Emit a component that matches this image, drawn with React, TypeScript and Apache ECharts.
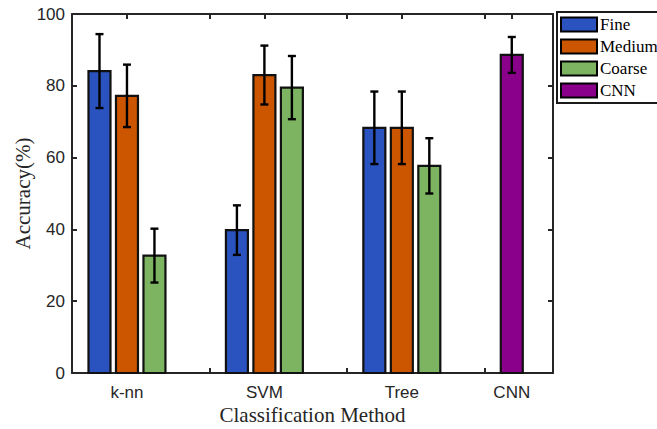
import React, { useEffect, useRef } from "react";
import * as echarts from "echarts";

const categories = ["k-nn", "SVM", "Tree", "CNN"];
const categoryPositions = [1, 2, 3, 3.8];
const tickPositions = [1, 1.6, 2, 2.6, 3, 3.6, 3.8];

const fineValues = [84.1, 39.8, 68.3];
const fineErrors = [10.3, 6.9, 10.1];
const mediumValues = [77.2, 83.0, 68.3];
const mediumErrors = [8.7, 8.2, 10.1];
const coarseValues = [32.7, 79.5, 57.7];
const coarseErrors = [7.5, 8.8, 7.7];
const cnnValues = [88.6];
const cnnErrors = [5.0];

const yTicks = [0, 20, 40, 60, 80, 100];

const seriesDefs = [
  { name: "Fine", values: fineValues, errors: fineErrors, groups: [0, 1, 2], offset: -0.2, color: "#2a53bf" },
  { name: "Medium", values: mediumValues, errors: mediumErrors, groups: [0, 1, 2], offset: 0, color: "#cc5500" },
  { name: "Coarse", values: coarseValues, errors: coarseErrors, groups: [0, 1, 2], offset: 0.2, color: "#7cb462" },
  { name: "CNN", values: cnnValues, errors: cnnErrors, groups: [3], offset: 0, color: "#8b008b" },
];

const BAR_W = 0.16;
const AXIS_COLOR = "#262626";
const SANS = "'Liberation Sans', Arial, sans-serif";
const SERIF = "'Liberation Serif', 'Times New Roman', serif";

export default function App() {
  const ref = useRef<HTMLDivElement>(null);
  useEffect(() => {
    if (!ref.current) return;
    const chart = echarts.init(ref.current, null, { renderer: "svg" });

    const series = seriesDefs.map((s) => ({
      name: s.name,
      type: "custom",
      xAxisIndex: 0,
      yAxisIndex: 0,
      itemStyle: { color: s.color },
      data: s.values.map((v, i) => [categoryPositions[s.groups[i]] + s.offset, v, s.errors[i]]),
      renderItem: (params: any, api: any) => {
        const x = api.value(0);
        const y = api.value(1);
        const e = api.value(2);
        const p0 = api.coord([x - BAR_W / 2, y]);
        const p1 = api.coord([x + BAR_W / 2, 0]);
        const top = api.coord([x, y + e]);
        const bot = api.coord([x, y - e]);
        const cap = 4;
        return {
          type: "group",
          children: [
            {
              type: "rect",
              shape: { x: p0[0], y: p0[1], width: p1[0] - p0[0], height: p1[1] - p0[1] },
              style: { fill: s.color, stroke: "#111", lineWidth: 2.2 },
            },
            {
              type: "line",
              shape: { x1: top[0], y1: top[1], x2: bot[0], y2: bot[1] },
              style: { stroke: "#000", lineWidth: 2.4 },
            },
            {
              type: "line",
              shape: { x1: top[0] - cap, y1: top[1], x2: top[0] + cap, y2: top[1] },
              style: { stroke: "#000", lineWidth: 2.4 },
            },
            {
              type: "line",
              shape: { x1: bot[0] - cap, y1: bot[1], x2: bot[0] + cap, y2: bot[1] },
              style: { stroke: "#000", lineWidth: 2.4 },
            },
          ],
        };
      },
    }));

    const option: any = {
      animation: false,
      backgroundColor: "#ffffff",
      grid: { left: 72, right: 104, top: 14, bottom: 56, containLabel: false, outerBoundsMode: "none" },
      legend: {
        orient: "vertical",
        left: 557,
        top: 12,
        itemWidth: 36,
        itemHeight: 14,
        itemGap: 5,
        padding: [4, 30, 4, 3],
        borderColor: "#1a1a1a",
        borderWidth: 2,
        backgroundColor: "#fff",
        textStyle: { fontFamily: SERIF, fontSize: 17, color: "#000", padding: [0, 0, 0, -2] },
        data: seriesDefs.map((s) => ({
          name: s.name,
          icon: "rect",
          itemStyle: { color: s.color, borderColor: "#000", borderWidth: 2 },
        })),
      },
      xAxis: [
        {
          type: "value",
          min: 0.6,
          max: 4.1,
          position: "bottom",
          name: "Classification Method",
          nameLocation: "middle",
          nameGap: 31,
          nameMoveOverlap: false,
          nameTextStyle: { fontFamily: SERIF, fontSize: 21, color: AXIS_COLOR },
          axisLine: { show: true, onZero: false, lineStyle: { color: AXIS_COLOR, width: 2 } },
          axisTick: { show: true, inside: true, length: 5, customValues: tickPositions, lineStyle: { color: AXIS_COLOR, width: 2 } },
          axisLabel: {
            show: true,
            customValues: categoryPositions,
            formatter: (v: number) => {
              const i = categoryPositions.findIndex((p) => Math.abs(p - v) < 1e-6);
              return i >= 0 ? categories[i] : "";
            },
            fontFamily: SANS,
            fontSize: 17,
            color: AXIS_COLOR,
            margin: 11,
          },
          splitLine: { show: false },
        },
        {
          type: "value",
          min: 0.6,
          max: 4.1,
          position: "top",
          axisLine: { show: true, onZero: false, lineStyle: { color: AXIS_COLOR, width: 2 } },
          axisTick: { show: true, inside: true, length: 5, customValues: tickPositions, lineStyle: { color: AXIS_COLOR, width: 2 } },
          axisLabel: { show: false },
          splitLine: { show: false },
        },
      ],
      yAxis: [
        {
          type: "value",
          min: 0,
          max: 100,
          interval: 20,
          position: "left",
          name: "Accuracy(%)",
          nameLocation: "middle",
          nameGap: 39,
          nameMoveOverlap: false,
          nameTextStyle: { fontFamily: SERIF, fontSize: 21, color: AXIS_COLOR },
          axisLine: { show: true, onZero: false, lineStyle: { color: AXIS_COLOR, width: 2 } },
          axisTick: { show: true, inside: true, length: 5, lineStyle: { color: AXIS_COLOR, width: 2 } },
          axisLabel: {
            fontFamily: SANS,
            fontSize: 17,
            color: AXIS_COLOR,
            margin: 7,
            formatter: (v: number) => (yTicks.includes(v) ? String(v) : ""),
          },
          splitLine: { show: false },
        },
        {
          type: "value",
          min: 0,
          max: 100,
          interval: 20,
          position: "right",
          axisLine: { show: true, onZero: false, lineStyle: { color: AXIS_COLOR, width: 2 } },
          axisTick: { show: true, inside: true, length: 5, lineStyle: { color: AXIS_COLOR, width: 2 } },
          axisLabel: { show: false },
          splitLine: { show: false },
        },
      ],
      series,
    };

    chart.setOption(option);
    return () => chart.dispose();
  }, []);

  return (
    <div style={{ position: "fixed", left: 0, top: 0, width: 657, height: 429, overflow: "hidden" }}>
      <div ref={ref} style={{ width: 657, height: 429, overflow: "hidden" }} />
    </div>
  );
}
